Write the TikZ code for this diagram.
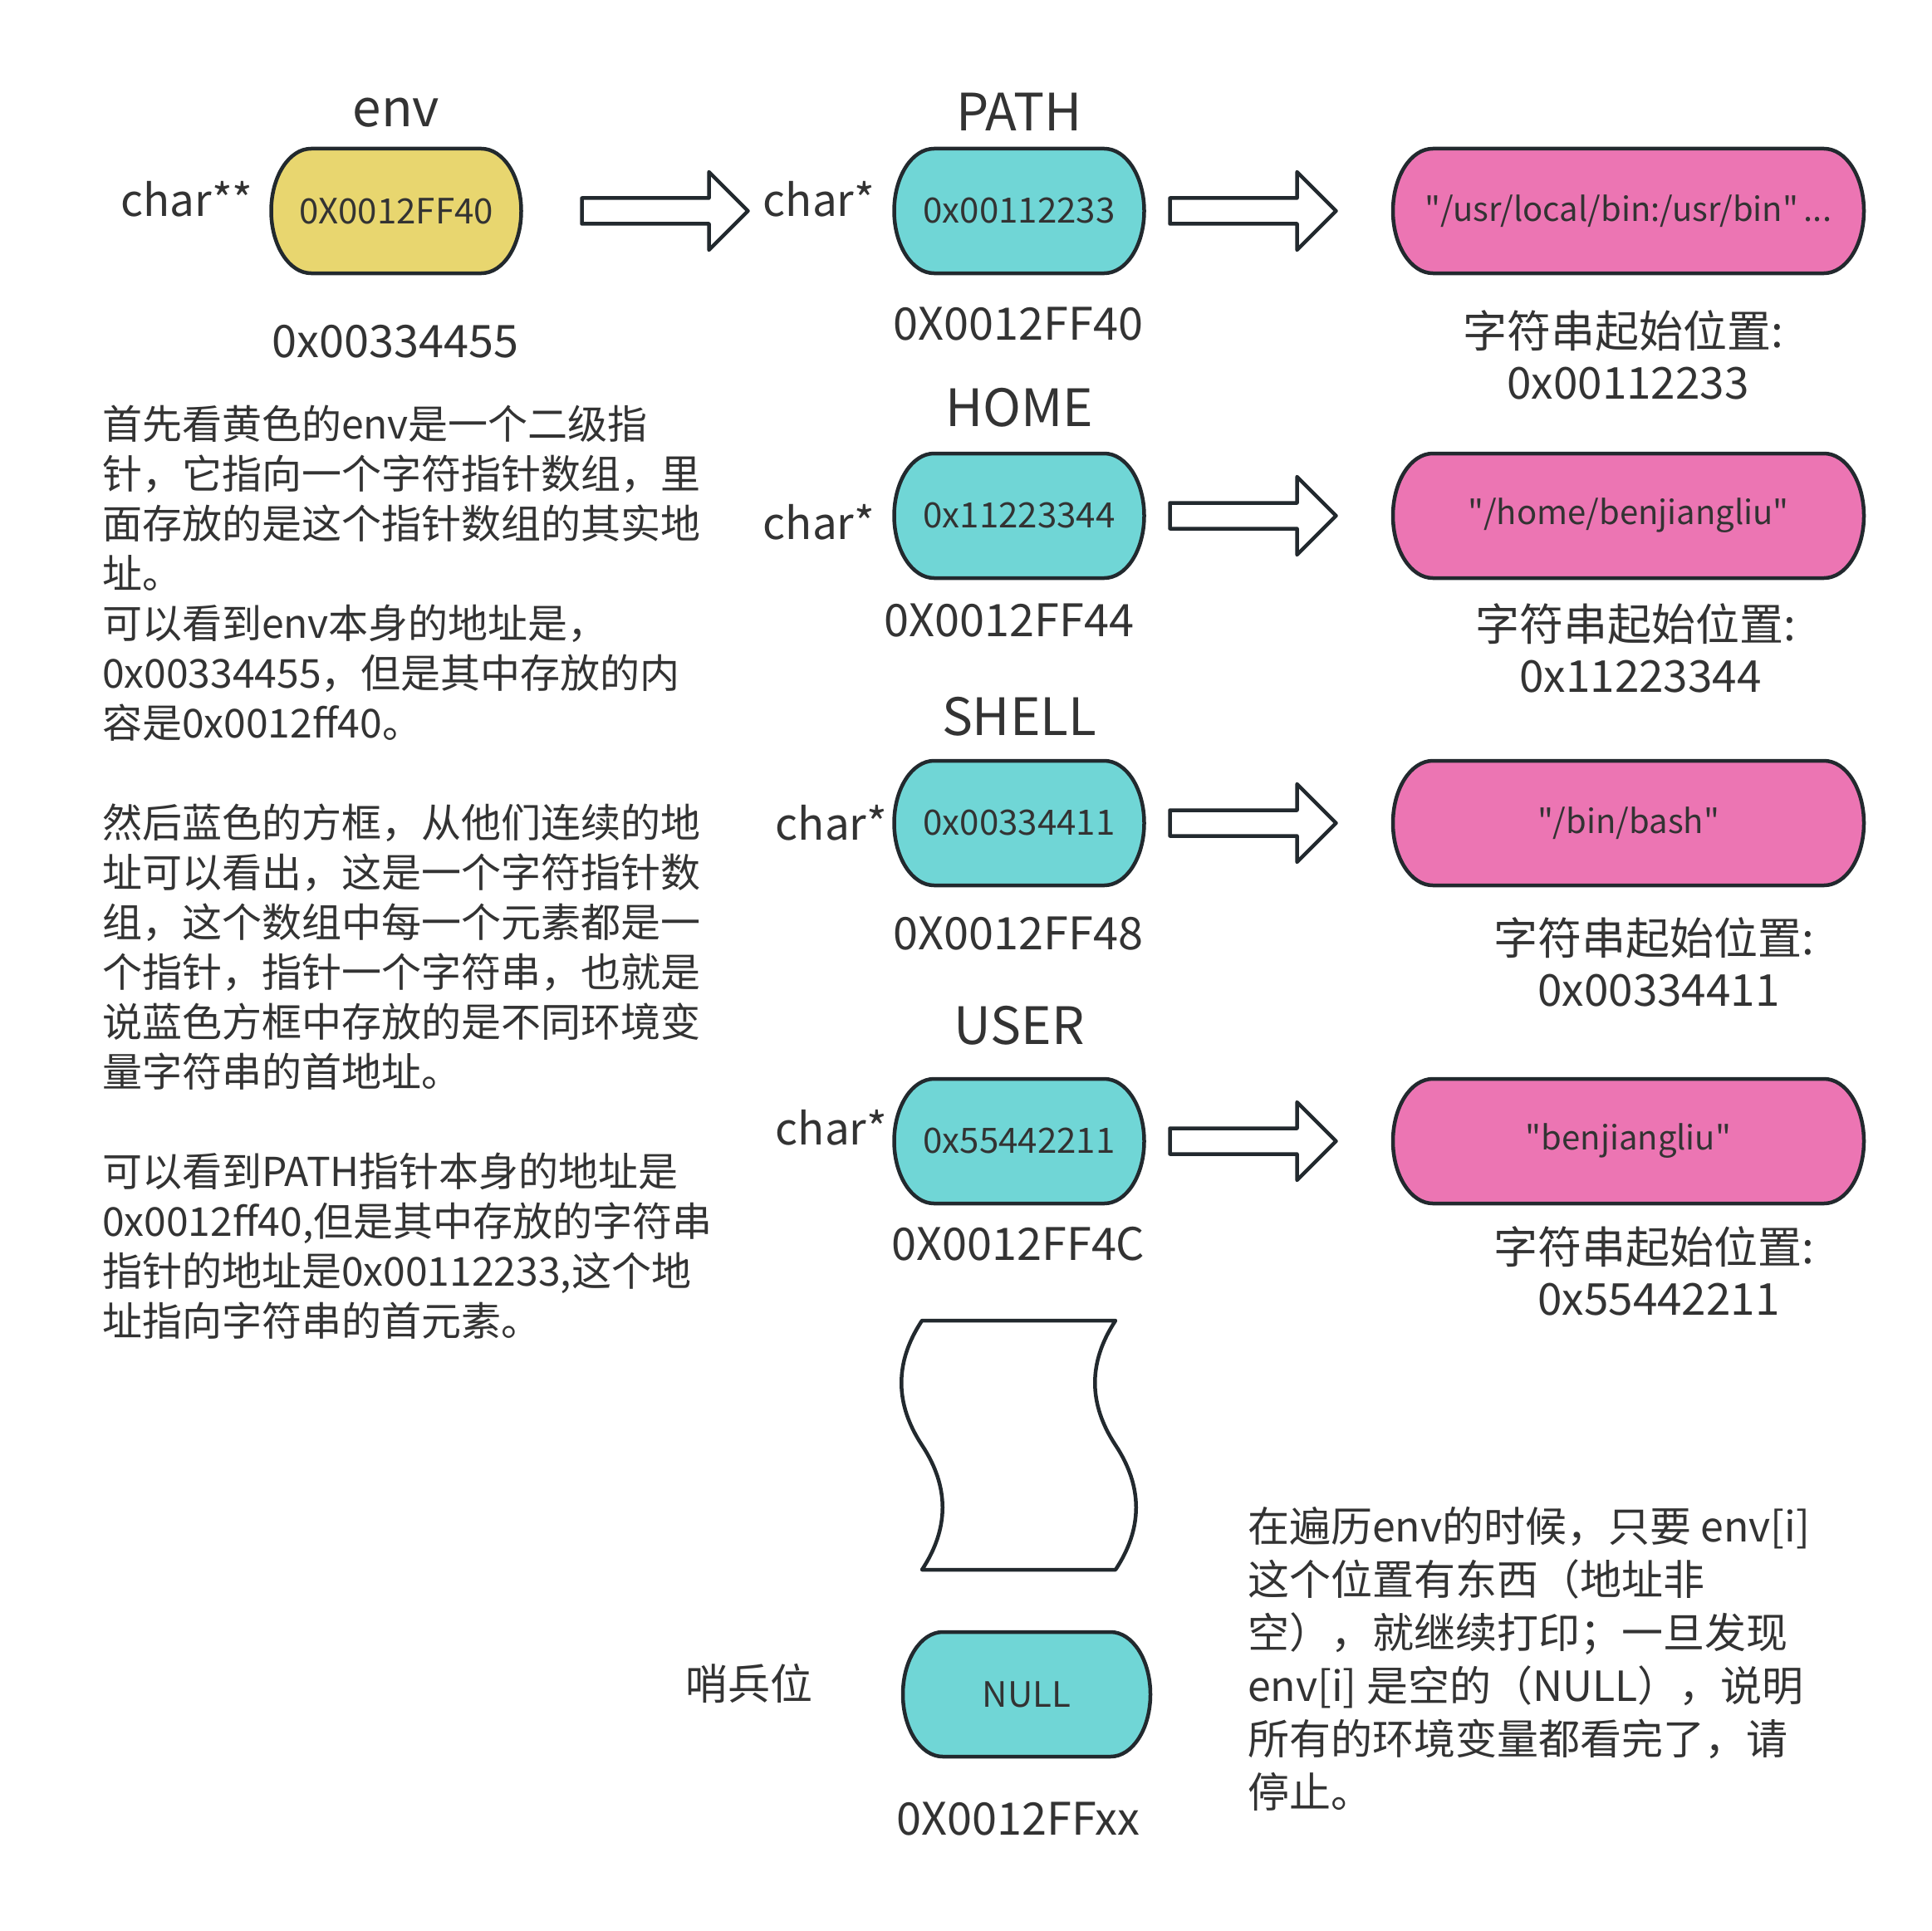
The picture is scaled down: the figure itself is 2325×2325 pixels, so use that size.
\documentclass[tikz,border=0pt]{standalone}
\usepackage{fontspec}
\setmainfont{Noto Sans CJK SC}[Ligatures=TeXOff]
\usetikzlibrary{backgrounds}
\definecolor{ink}{HTML}{333333}
\definecolor{edge}{HTML}{22292E}
\definecolor{yel}{HTML}{E8D66F}
\definecolor{cyn}{HTML}{70D6D6}
\definecolor{pnk}{HTML}{EC75B3}
% pill shaped outline around a node: #1 node name, #2 fill colour
\newcommand\pillshape[2]{%
  \draw[pillline, fill=#2] ([xshift=48pt]#1.north west) -- ([xshift=-48pt]#1.north east)
    arc[start angle=90,end angle=0,x radius=48pt,y radius=75pt]
    arc[start angle=0,end angle=-90,x radius=48pt,y radius=75pt]
    -- ([xshift=48pt]#1.south west)
    arc[start angle=270,end angle=180,x radius=48pt,y radius=75pt]
    arc[start angle=180,end angle=90,x radius=48pt,y radius=75pt] -- cycle;}
% block arrow starting at coordinate #1, 200 long
\newcommand\blockarrow[1]{%
  \draw[pillline, fill=white] ([yshift=15.5pt]#1) -- ++(153,0) -- ++(0,-31.5) -- ++(47,47)
    -- ++(-47,47) -- ++(0,-31.5) -- ++(-153,0) -- cycle;}
\begin{document}
\begin{tikzpicture}[x=1pt,y=-1pt,
  every node/.style={text=ink, inner sep=0pt, outer sep=0pt},
  pillline/.style={draw=edge, line width=4.5pt, line join=round},
  headlbl/.style={font=\fontsize{62}{70}\selectfont},
  addrlbl/.style={font=\fontsize{54}{62}\selectfont},
  ctype/.style={font=\fontsize{53}{62}\selectfont},
  boxtxt/.style={font=\fontsize{42}{50}\selectfont},
  strtxt/.style={font=\fontsize{40}{48}\selectfont},
  strlbl/.style={font=\fontsize{53}{62}\selectfont, align=center},
  ptrbox/.style={minimum width=301pt, minimum height=150pt, boxtxt},
  strbox/.style={minimum width=567pt, minimum height=150pt, strtxt},
  para/.style={align=left, anchor=north west}]
\useasboundingbox (0,0) rectangle (2325,2325);

% ---- env ----
\node[headlbl] (envl) at (477,136) {env};
\node[ctype] (envt) at (225,240) {char**};
\node[ptrbox] (env) at (477,254) {0X0012FF40};
\node[addrlbl] (enva) at (476,411) {0x00334455};

% ---- pointer array ----
\node[headlbl] (pathl) at (1227,135) {PATH};
\node[ctype] (c1) at (986,240) {char*};
\node[ptrbox] (p1) at (1227,254) {0x00112233};
\node[addrlbl] (a1) at (1226,390) {0X0012FF40};

\node[headlbl] (homel) at (1227,491) {HOME};
\node[ctype] (c2) at (986,629) {char*};
\node[ptrbox] (p2) at (1227,621) {0x11223344};
\node[addrlbl] (a2) at (1215,747) {0X0012FF44};

\node[headlbl] (shelll) at (1227,863) {SHELL};
\node[ctype] (c3) at (1001,991) {char*};
\node[ptrbox] (p3) at (1227,991) {0x00334411};
\node[addrlbl] (a3) at (1226,1124) {0X0012FF48};

\node[headlbl] (userl) at (1227,1235) {USER};
\node[ctype] (c4) at (1001,1358) {char*};
\node[ptrbox] (p4) at (1227,1374) {0x55442211};
\node[addrlbl] (a4) at (1226,1498) {0X0012FF4C};

% ---- strings ----
\node[strbox] (s1) at (1960.5,254) {"/usr/local/bin:/usr/bin"\,...};
\node[strlbl] (l1) at (1954,427) {字符串起始位置:\\\hspace*{12pt}0x00112233};
\node[strbox] (s2) at (1960.5,621) {"/home/benjiangliu"};
\node[strlbl] (l2) at (1969,780) {字符串起始位置:\\\hspace*{12pt}0x11223344};
\node[strbox] (s3) at (1960.5,991) {"/bin/bash"};
\node[strlbl] (l3) at (1991,1158) {字符串起始位置:\\\hspace*{12pt}0x00334411};
\node[strbox] (s4) at (1960.5,1374) {"benjiangliu"};
\node[strlbl] (l4) at (1991,1530) {字符串起始位置:\\\hspace*{12pt}0x55442211};

% ---- sentinel ----
\node[ptrbox, minimum width=298pt] (nul) at (1236,2040) {NULL};
\node[font=\fontsize{51}{60}\selectfont] (sent) at (902,2027) {哨兵位};
\node[addrlbl] (anul) at (1226,2190) {0X0012FFxx};

% ---- paragraphs ----
\node[para, font=\fontsize{48}{60}\selectfont] (txtL) at (123,488) {%
首先看黄色的env是一个二级指\\
针，它指向一个字符指针数组，里\\
面存放的是这个指针数组的其实地\\
址。\\
可以看到env本身的地址是，\\
0x00334455，但是其中存放的内\\
容是0x0012ff40。\\[60pt]
然后蓝色的方框，从他们连续的地\\
址可以看出，这是一个字符指针数\\
组，这个数组中每一个元素都是一\\
个指针，指针一个字符串，也就是\\
说蓝色方框中存放的是不同环境变\\
量字符串的首地址。\\[60pt]
可以看到PATH指针本身的地址是\\
0x0012ff40,但是其中存放的字符串\\
指针的地址是0x00112233,这个地\\
址指向字符串的首元素。};

\node[para, font=\fontsize{50}{64}\selectfont] (txtR) at (1502,1814) {%
在遍历env的时候，只要 env[i]\\
这个位置有东西（地址非\\
空），就继续打印；一旦发现\\
env[i] 是空的（NULL），说明\\
所有的环境变量都看完了，请\\
停止。};

% ---- arrows ----
\coordinate (ar0) at ([xshift=73pt]env.east);
\coordinate (ar1) at ([xshift=31pt]p1.east);
\coordinate (ar2) at ([xshift=31pt]p2.east);
\coordinate (ar3) at ([xshift=31pt]p3.east);
\coordinate (ar4) at ([xshift=31pt]p4.east);
\blockarrow{ar0}
\blockarrow{ar1}
\blockarrow{ar2}
\blockarrow{ar3}
\blockarrow{ar4}

% ---- gap marker (wavy shape) ----
\draw[pillline] (1110,1590) -- (1343,1590)
  .. controls (1310,1640) and (1310,1690) .. (1343,1740)
  .. controls (1376,1790) and (1376,1840) .. (1343,1890)
  -- (1110,1890)
  .. controls (1143,1840) and (1143,1790) .. (1110,1740)
  .. controls (1077,1690) and (1077,1640) .. (1110,1590) -- cycle;

\begin{scope}[on background layer]
  \fill[white] (0,0) rectangle (2325,2325);
  \pillshape{env}{yel}
  \pillshape{p1}{cyn}
  \pillshape{p2}{cyn}
  \pillshape{p3}{cyn}
  \pillshape{p4}{cyn}
  \pillshape{s1}{pnk}
  \pillshape{s2}{pnk}
  \pillshape{s3}{pnk}
  \pillshape{s4}{pnk}
  \pillshape{nul}{cyn}
\end{scope}
\end{tikzpicture}
\end{document}
